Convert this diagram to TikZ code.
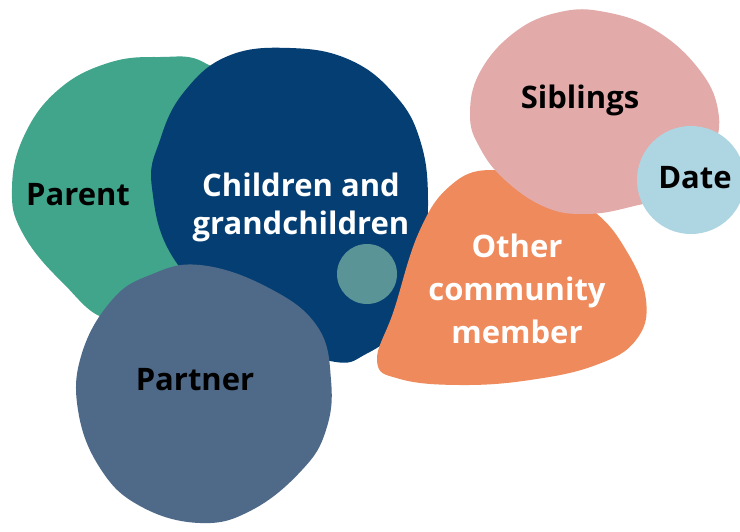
\documentclass[tikz,border=0pt]{standalone}
\usepackage{fontspec}
\setmainfont{Open Sans}
\usepackage{tikz}
\usetikzlibrary{positioning}
\definecolor{parentgreen}{HTML}{41A58C}
\definecolor{childnavy}{HTML}{053E72}
\definecolor{partnerblue}{HTML}{4F6A89}
\definecolor{dotteal}{HTML}{5B9497}
\definecolor{otherorange}{HTML}{EE8A5C}
\definecolor{siblingpink}{HTML}{E2ABAA}
\definecolor{datelblue}{HTML}{AED5E2}

\begin{document}
\begin{tikzpicture}[x=1pt,y=-1pt,
	blob/.style={smooth cycle,tension=0.7},
	lbl/.style={font=\fontsize{31}{38}\selectfont\bfseries,align=center}]
	\tikzstyle{every node}+=[inner sep=0pt]
	\clip (0,0) rectangle (740,531);
	\fill [white] (0,0) rectangle (740,531);
	\fill [parentgreen] plot[blob] coordinates {(12,188) (24,136) (58,90) (108,63) (160,57) (205,63) (245,105) (252,262) (180,302) (112,320) (62,282) (22,232)};
	\fill [childnavy] plot[blob] coordinates {(152,188) (160,140) (184,92) (228,56) (290,48) (350,60) (395,95) (420,140) (428,200) (421,268) (401,324) (366,354) (330,361) (250,332) (176,262)};
	\fill [dotteal] (367,274) circle (30);
	\fill [partnerblue] plot[blob] coordinates {(200,265) (267,287) (317,326) (331,380) (326,430) (302,470) (252,510) (200,523) (140,506) (100,468) (78,410) (82,353) (112,300) (150,275)};
	\fill [otherorange] plot[blob] coordinates {(377,361) (394,310) (419,232) (450,186) (490,170) (540,184) (592,210) (626,250) (646,300) (636,340) (596,365) (530,380) (460,385) (400,379)};
	\fill [siblingpink] plot[blob] coordinates {(470,115) (480,72) (515,32) (560,12) (605,12) (655,30) (698,68) (718,110) (712,150) (680,190) (630,207) (585,214) (545,207) (505,180) (480,148)};
	\fill [datelblue] (691,180) circle (54);
	\node [lbl,anchor=base] (parent) at (78,205) {Parent};
	\node [lbl,text=white] (children) at (301,207) {Children and\\grandchildren};
	\node [lbl,anchor=base] (partner) at (195,390) {Partner};
	\node [lbl,font=\fontsize{31}{43}\selectfont\bfseries,text=white] (other) at (517,289) {Other\\community\\member};
	\node [lbl,anchor=base] (siblings) at (580,108) {Siblings};
	\node [lbl,anchor=base] (date) at (695,188) {Date};
\end{tikzpicture}
\end{document}
